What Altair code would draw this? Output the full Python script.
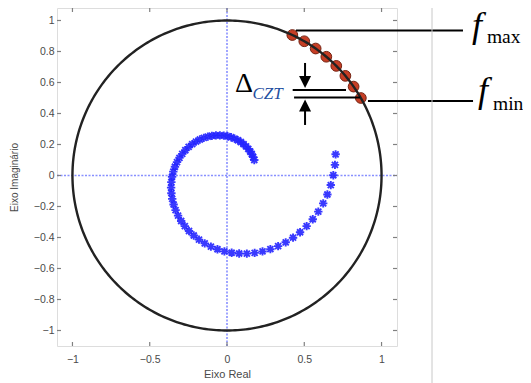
import altair as alt
import numpy as np
import pandas as pd

# ---- values ----
x_ticks = [-1, -0.5, 0, 0.5, 1]
y_ticks = [-1, -0.8, -0.6, -0.4, -0.2, 0, 0.2, 0.4, 0.6, 0.8, 1]
x_domain = [-1.1, 1.1]
y_domain = [-1.1, 1.0806]

# CZT evaluation points on the unit circle (degrees)
czt_angles_deg = [30, 35, 40, 45, 50, 55, 60, 65]

# spiral (chirp contour) end points
spiral_r_outer = 0.716
spiral_ang_outer = 11.0      # degrees
spiral_r_inner = 0.203
spiral_ang_inner = -330.4    # degrees
spiral_points = 64

# annotation segments (data units): x, y, x2, y2
seg_x = [0.446, 0.912, 0.425, 0.434, 0.505, 0.505]
seg_y = [0.935, 0.481, 0.552, 0.503, 0.726, 0.326]
seg_x2 = [1.527, 1.592, 0.770, 0.861, 0.505, 0.505]
seg_y2 = [0.935, 0.481, 0.552, 0.503, 0.629, 0.423]

# arrow heads
head_x = [0.505, 0.505]
head_y = [0.603, 0.452]
head_dir = ["down", "up"]

# labels
f_text = ["f", "f"]
f_x = [1.585, 1.624]
f_y = [0.895, 0.474]
sub_text = ["max", "min"]
sub_x = [1.682, 1.721]
sub_y = [0.858, 0.423]
delta_x, delta_y = 0.052, 0.539
czt_x, czt_y = 0.165, 0.494

sep_line_x = 1.3265

# ---- build tables ----
circ_t = np.radians(np.arange(0, 361, 1))
circle_df = pd.DataFrame({"x": np.cos(circ_t), "y": np.sin(circ_t), "o": np.arange(len(circ_t))})

czt_rad = np.radians(czt_angles_deg)
czt_df = pd.DataFrame({"x": np.cos(czt_rad), "y": np.sin(czt_rad)})

k = np.arange(spiral_points) / (spiral_points - 1)
sp_ang = np.radians(spiral_ang_outer + (spiral_ang_inner - spiral_ang_outer) * k)
sp_r = spiral_r_outer * (spiral_r_inner / spiral_r_outer) ** k
spiral_df = pd.DataFrame({"x": sp_r * np.cos(sp_ang), "y": sp_r * np.sin(sp_ang)})

seg_df = pd.DataFrame({"x": seg_x, "y": seg_y, "x2": seg_x2, "y2": seg_y2})
head_df = pd.DataFrame({"x": head_x, "y": head_y, "d": head_dir})

L = 0.026
xlo, xhi = x_domain
ylo, yhi = y_domain
nx, ny = len(x_ticks), len(y_ticks)
ticks_df = pd.concat([
    pd.DataFrame({"x": x_ticks, "x2": x_ticks, "y": [ylo] * nx, "y2": [ylo + L] * nx}),
    pd.DataFrame({"x": x_ticks, "x2": x_ticks, "y": [yhi] * nx, "y2": [yhi - L] * nx}),
    pd.DataFrame({"x": [xlo] * ny, "x2": [xlo + L] * ny, "y": y_ticks, "y2": y_ticks}),
    pd.DataFrame({"x": [xhi] * ny, "x2": [xhi - L] * ny, "y": y_ticks, "y2": y_ticks}),
])

SERIF = "Liberation Serif, Times New Roman, DejaVu Serif, serif"
SANS = "Liberation Sans, Arial, Helvetica, sans-serif"

sx = alt.Scale(domain=x_domain, nice=False, zero=False)
sy = alt.Scale(domain=y_domain, nice=False, zero=False)
ax_x = alt.Axis(values=x_ticks, format="~g", title="Eixo Real", grid=False, ticks=False, domain=False,
                labelFont=SANS, labelFontSize=10.5, labelColor="#4a4a4a", labelPadding=8,
                titleFont=SANS, titleFontSize=11, titleFontWeight="normal", titleColor="#4a4a4a",
                titleBaseline="alphabetic", titleY=31)
ax_y = alt.Axis(values=y_ticks, format="~g", title="Eixo Imaginário", grid=False, ticks=False, domain=False,
                labelFont=SANS, labelFontSize=10.5, labelColor="#4a4a4a", labelPadding=3,
                titleFont=SANS, titleFontSize=10, titleFontWeight="normal", titleColor="#4a4a4a",
                titleBaseline="alphabetic", titleX=-40)

def X(f="x"):
    return alt.X(f"{f}:Q", scale=sx, axis=ax_x)

def Y(f="y"):
    return alt.Y(f"{f}:Q", scale=sy, axis=ax_y)

base_axes = alt.Chart(pd.DataFrame({"x": [0.0], "y": [0.0]})).mark_point(opacity=0).encode(x=X(), y=Y())

vline = alt.Chart(pd.DataFrame({"x": [0.0], "y": [ylo], "y2": [yhi]})).mark_rule(
    color="#6a74ff", strokeWidth=1.6, strokeDash=[2, 1.5], opacity=0.8
).encode(x=X(), y=Y(), y2="y2:Q")
hline = alt.Chart(pd.DataFrame({"y": [0.0], "x": [xlo], "x2": [xhi]})).mark_rule(
    color="#6a74ff", strokeWidth=1.6, strokeDash=[2, 1.5], opacity=0.8
).encode(y=Y(), x=X(), x2="x2:Q")

ticks = alt.Chart(ticks_df).mark_rule(color="#808080", strokeWidth=1.2).encode(
    x=X(), x2="x2:Q", y=Y(), y2="y2:Q")

czt_pts = alt.Chart(czt_df).mark_point(
    shape="circle", filled=True, size=115, fill="#c4341a", stroke="#6e1806", strokeWidth=1, opacity=0.95
).encode(x=X(), y=Y())

circle = alt.Chart(circle_df).mark_line(color="#222222", strokeWidth=2.4).encode(
    x=X(), y=Y(), order="o:Q")

asterisk = "M-1,0L1,0M0,-1L0,1M-0.72,-0.72L0.72,0.72M-0.72,0.72L0.72,-0.72"
spiral = alt.Chart(spiral_df).mark_point(
    shape=asterisk, filled=False, size=70, color="#2424ff", strokeWidth=1.9, opacity=0.9
).encode(x=X(), y=Y())

segs = alt.Chart(seg_df).mark_rule(color="black", strokeWidth=2).encode(
    x=X(), y=Y(), x2="x2:Q", y2="y2:Q")

down_head = alt.Chart(head_df[head_df.d == "down"]).mark_point(
    shape="M-1,-1L1,-1L0,1Z", filled=True, size=144, color="black", opacity=1
).encode(x=X(), y=Y())
up_head = alt.Chart(head_df[head_df.d == "up"]).mark_point(
    shape="M-1,1L1,1L0,-1Z", filled=True, size=144, color="black", opacity=1
).encode(x=X(), y=Y())

sep = alt.Chart(pd.DataFrame({"x": [sep_line_x], "y": [1.16], "y2": [-1.45]})).mark_rule(
    color="#c8c8c8", strokeWidth=1).encode(x=X(), y=Y(), y2="y2:Q")

f_lbl = alt.Chart(pd.DataFrame({"x": f_x, "y": f_y, "t": f_text})).mark_text(
    font=SERIF, fontStyle="italic", fontSize=36, align="left", baseline="alphabetic", color="black"
).encode(x=X(), y=Y(), text="t:N")
sub_lbl = alt.Chart(pd.DataFrame({"x": sub_x, "y": sub_y, "t": sub_text})).mark_text(
    font=SERIF, fontSize=19.5, align="left", baseline="alphabetic", color="black"
).encode(x=X(), y=Y(), text="t:N")
delta_lbl = alt.Chart(pd.DataFrame({"x": [delta_x], "y": [delta_y], "t": ["Δ"]})).mark_text(
    font=SERIF, fontSize=28, align="left", baseline="alphabetic", color="black"
).encode(x=X(), y=Y(), text="t:N")
czt_lbl = alt.Chart(pd.DataFrame({"x": [czt_x], "y": [czt_y], "t": ["CZT"]})).mark_text(
    font=SERIF, fontStyle="italic", fontSize=17, align="left", baseline="alphabetic", color="#1f4f9f"
).encode(x=X(), y=Y(), text="t:N")

chart = alt.layer(
    base_axes, vline, hline, ticks, czt_pts, circle, spiral, segs, down_head, up_head, sep,
    f_lbl, sub_lbl, delta_lbl, czt_lbl
).properties(
    width=340, height=338,
    autosize=alt.AutoSizeParams(type="none"),
    padding={"left": 49, "top": 0, "right": 126, "bottom": 37},
).configure_view(stroke="#8c8c8c", strokeWidth=2, fill="white").configure(background="white")

chart.save("out.html", embed_options={"renderer": "svg", "actions": False})
